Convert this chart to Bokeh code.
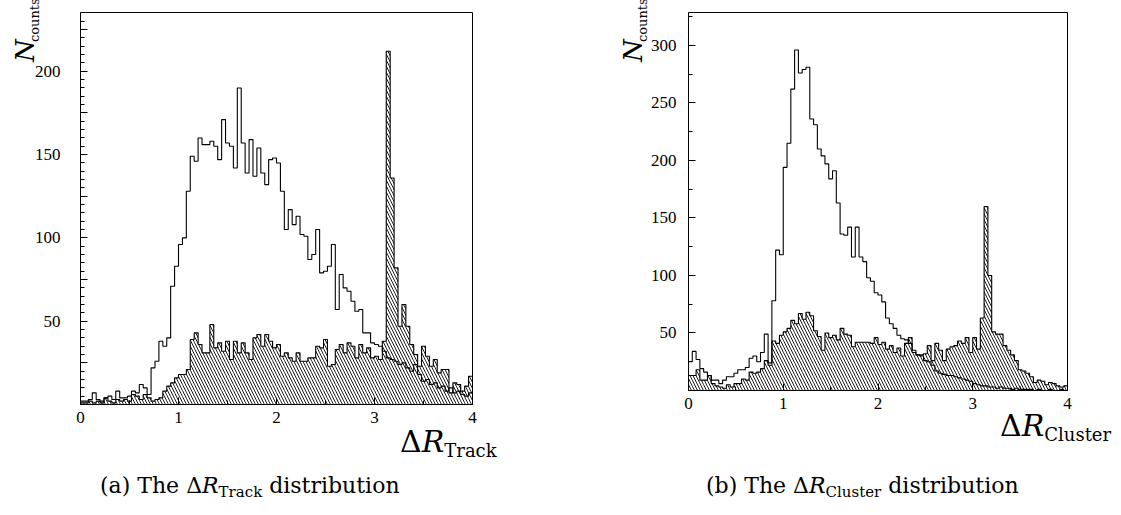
import numpy as np
from bokeh.plotting import figure
from bokeh.models import Range1d, FixedTicker, GridBox, Div
from bokeh.embed import file_html
from bokeh.resources import INLINE

# ---------------- data (100 bins of width 0.04 from 0 to 4) ----------------
bin_lo, bin_hi = 0.0, 4.0

track_all = [2, 2, 3, 7, 3, 2, 4, 5, 3, 8, 4, 4, 5, 8, 7, 12, 10, 6, 22, 26,
             38, 35, 40, 71, 83, 96, 100, 128, 149, 146, 160, 156, 156, 158, 155, 147, 171, 157, 155, 142,
             190, 157, 139, 159, 137, 154, 139, 132, 147, 148, 145, 128, 105, 117, 108, 113, 102, 101, 87, 90,
             105, 79, 80, 83, 96, 57, 78, 70, 68, 62, 56, 57, 43, 43, 37, 36, 35, 32, 28, 27,
             26, 24, 25, 22, 20, 24, 18, 14, 15, 12, 13, 10, 11, 8, 10, 7, 8, 6, 5, 7]

track_hatched = [1, 1, 2, 1, 2, 1, 4, 2, 1, 3, 2, 3, 2, 6, 5, 3, 6, 4, 2, 3,
                 4, 8, 11, 13, 16, 18, 18, 21, 39, 43, 36, 31, 31, 48, 34, 37, 32, 38, 27, 38,
                 31, 37, 31, 27, 40, 42, 35, 42, 38, 34, 36, 29, 31, 28, 26, 31, 26, 26, 28, 28,
                 35, 34, 39, 23, 24, 33, 36, 31, 37, 35, 28, 36, 31, 34, 28, 29, 27, 38, 212, 136,
                 82, 47, 60, 47, 36, 30, 23, 35, 29, 23, 27, 19, 21, 21, 7, 13, 12, 8, 11, 17]

cluster_all = [25, 34, 27, 19, 16, 13, 9, 9, 6, 9, 12, 12, 15, 18, 18, 20, 28, 30, 25, 33,
               49, 24, 78, 122, 118, 194, 215, 262, 296, 276, 279, 281, 236, 231, 210, 204, 197, 184, 191, 163,
               136, 135, 142, 116, 142, 116, 112, 98, 95, 85, 83, 77, 63, 58, 54, 48, 45, 44, 41, 35,
               31, 30, 26, 25, 22, 17, 15, 14, 13, 13, 12, 11, 10, 9, 8, 6, 5, 4, 4, 3,
               3, 2, 3, 2, 2, 1, 2, 1, 1, 1, 1, 0, 1, 0, 0, 1, 0, 0, 1, 0]

cluster_hatched = [13, 13, 18, 9, 9, 13, 6, 4, 3, 2, 5, 3, 6, 6, 10, 9, 16, 15, 16, 19,
                   26, 22, 43, 41, 48, 51, 54, 61, 58, 67, 62, 68, 65, 52, 47, 35, 50, 46, 48, 44,
                   54, 49, 48, 38, 42, 42, 42, 42, 41, 46, 40, 42, 36, 39, 33, 37, 30, 41, 46, 33,
                   31, 31, 32, 39, 26, 41, 35, 26, 36, 38, 39, 43, 41, 46, 33, 46, 36, 63, 160, 100,
                   51, 49, 49, 39, 35, 31, 26, 18, 17, 15, 12, 7, 9, 8, 5, 7, 6, 4, 3, 4]

x_ticks = [0, 1, 2, 3, 4]
track_y_labels = [50, 100, 150, 200]
cluster_y_labels = [50, 100, 150, 200, 250, 300]

TICK_FONT = "Liberation Serif"
TEXT_FONT = "DejaVu Serif"
PAGE_W, PAGE_H = 1120, 512


def make_panel(all_vals, hatched_vals, y_top, frame_w, frame_h, borders, y_ticker, label_standoff):
    bl, br, bt, bb = borders
    p = figure(frame_width=frame_w, frame_height=frame_h,
               x_range=Range1d(bin_lo, bin_hi), y_range=Range1d(0, y_top),
               min_border_left=bl, min_border_right=br, min_border_top=bt, min_border_bottom=bb,
               output_backend="svg", toolbar_location=None)
    p.grid.visible = False
    p.background_fill_color = "white"
    p.border_fill_color = "white"
    p.outline_line_color = "black"
    p.outline_line_width = 1
    p.outline_line_alpha = 1

    n = len(all_vals)
    edges = np.linspace(bin_lo, bin_hi, n + 1)
    p.quad(left=edges[:-1], right=edges[1:], bottom=0, top=hatched_vals,
           fill_alpha=0, line_alpha=0, hatch_pattern="\\", hatch_color="black",
           hatch_weight=0.9, hatch_scale=6)
    p.step(x=edges, y=list(hatched_vals) + [hatched_vals[-1]], mode="after",
           line_color="black", line_width=1.1)
    p.step(x=edges, y=list(all_vals) + [all_vals[-1]], mode="after",
           line_color="black", line_width=1.1)

    for ax in (p.xaxis[0], p.yaxis[0]):
        ax.axis_line_color = "black"
        ax.major_tick_line_color = "black"
        ax.minor_tick_line_color = "black"
        ax.major_tick_out = 0
        ax.minor_tick_out = 0
        ax.major_label_text_font = TICK_FONT
        ax.major_label_text_font_size = "17px"
        ax.major_label_text_color = "black"

    p.xaxis.ticker = FixedTicker(ticks=x_ticks,
                                 minor_ticks=list(np.arange(bin_lo + 0.5, bin_hi, 1.0)))
    p.xaxis.major_tick_in = 7
    p.xaxis.minor_tick_in = 4
    p.xaxis.major_label_standoff = 7

    p.yaxis.ticker = y_ticker
    p.yaxis.major_label_standoff = label_standoff
    p.yaxis.major_tick_in = 7
    p.yaxis.minor_tick_in = 4
    return p


# ---------------- left panel ----------------
ticks1 = list(range(25, 235, 25))
t1 = FixedTicker(ticks=ticks1, minor_ticks=list(range(5, 235, 5)))
p1 = make_panel(track_all, track_hatched, 235.3, 392, 392, (80, 88, 12, 108), t1, 20)
p1.yaxis.major_label_overrides = {t: "" for t in ticks1 if t not in track_y_labels}

# ---------------- right panel ----------------
t2 = FixedTicker(ticks=cluster_y_labels, minor_ticks=list(range(25, 330, 50)))
p2 = make_panel(cluster_all, cluster_hatched, 328.6, 379, 378, (128, 53, 12, 122), t2, 12)

# ---------------- transparent HTML text overlay (page pixel coordinates) ----------------
ASC = 0.846  # baseline position inside a line-height:1 box for DejaVu Serif


def span(html, x, base, size, rotate=False):
    if rotate:
        left, top = x - ASC * size, base
        tr = "transform-origin:0 0;transform:rotate(-90deg);"
    else:
        left, top = x, base - ASC * size
        tr = ""
    return (f'<span style="position:absolute;left:{left:.1f}px;top:{top:.1f}px;'
            f'font-family:\'{TEXT_FONT}\';font-size:{size}px;line-height:1;white-space:nowrap;'
            f'color:black;{tr}">{html}</span>')


def sub(text, size, drop):
    return (f'<span style="font-size:{size}px;position:relative;top:{drop}px;'
            f'font-style:normal">{text}</span>')


parts = []
for off in (0, 608):
    parts.append(span("<i>N</i>", 34 + off, 62, 26, rotate=True))
    parts.append(span("counts", 39 + off, 42, 13, rotate=True))

parts.append(span("\u0394<i>R</i>" + sub("Track", 18, 5), 400, 452, 30))
parts.append(span("\u0394<i>R</i>" + sub("Cluster", 18, 5), 1000, 436, 30))

for letter, name, x0 in (("a", "Track", 100), ("b", "Cluster", 706)):
    parts.append(span(f"({letter}) The \u0394<i>R</i>" + sub(name, 15, 4) + " distribution",
                      x0, 494, 22))

overlay = Div(text=(f'<div style="position:relative;width:{PAGE_W}px;height:{PAGE_H}px;">'
                    + "".join(parts) + "</div>"),
              width=PAGE_W, height=PAGE_H, margin=0)

layout = GridBox(children=[(p1, 0, 0), (p2, 0, 1), (overlay, 0, 0, 1, 2)], spacing=0)
open("out.html", "w").write(file_html(layout, INLINE))
